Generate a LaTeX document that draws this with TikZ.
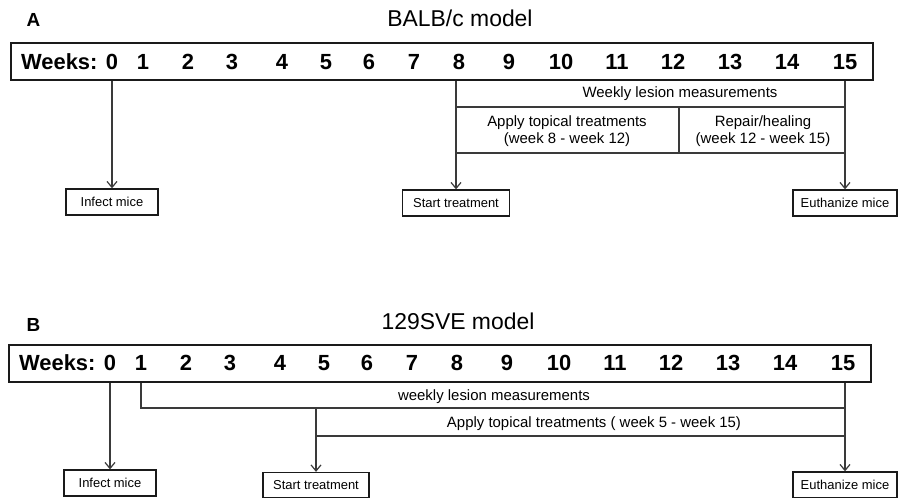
\documentclass[tikz,border=0pt]{standalone}
\usepackage{fontspec}
\setmainfont{Liberation Sans}
\usepackage{xcolor}
\usepackage{tikz}
\usetikzlibrary{positioning,calc,arrows.meta}
\definecolor{tlline}{HTML}{3A3A3A}
\definecolor{tlbox}{HTML}{1A1A1A}

\begin{document}
\begin{tikzpicture}[x=1bp, y=-1bp,
    weekbar/.style={draw=tlbox, line width=2bp, minimum width=862bp, minimum height=37bp,
                    anchor=north west, inner sep=0pt},
    weeknum/.style={anchor=base, font=\bfseries\fontsize{22}{26}\selectfont},
    evbox/.style={draw=tlbox, line width=1.3bp, minimum height=26bp, inner sep=2pt,
                  font=\fontsize{13}{15}\selectfont},
    phase/.style={anchor=base, font=\fontsize{15}{17}\selectfont, align=center},
    link/.style={draw=tlline, line width=1.2bp},
    arr/.style={link, -{Straight Barb[length=6bp, width=10bp]}},
    panel/.style={anchor=base west, font=\bfseries\fontsize{19}{22}\selectfont},
    ttl/.style={anchor=base, font=\fontsize{23}{27}\selectfont}]

%%% ---------- MARCO ----------
\useasboundingbox (0,0) rectangle (898,498);
\def\weekxs{112,143,188,232,282,326,369,414,459,509,561,617,673,730,787,845}

%%% ---------- PANEL A: BALB/c ----------
\node[panel] (labelA) at (23,27) {A};
\node[ttl] (titleA) at (460,27) {BALB/c model};
\node[weekbar] (barA) at (10,42) {};
\node[weeknum, anchor=base east] (weeksA) at (101,70) {Weeks:};
\foreach \x [count=\i from 0] in \weekxs {
    \node[weeknum] (weekA\i) at (\x,70) {\i};
}

% Eventos
\node[evbox, minimum width=92bp] (infectA) at (weekA0 |- 0,202) {Infect mice};
\node[evbox, minimum width=107bp] (startA) at (456,203) {Start treatment};
\node[evbox, minimum width=104bp] (euthA) at (845,203) {Euthanize mice};

% Fases
\coordinate (lesA) at (456,107);
\coordinate (treatA) at (456,153);
\coordinate (splitA) at (679,107);
\draw[link] (lesA) -- (lesA -| euthA);
\draw[link] (treatA) -- (treatA -| euthA);
\draw[link] (splitA) -- (splitA |- treatA);
\node[phase] (lesionA) at (680,98) {Weekly lesion measurements};
\node[phase, anchor=center] (applyA) at (567,131) {Apply topical treatments\\(week 8 - week 12)};
\node[phase, anchor=center] (repairA) at (763,131) {Repair/healing\\(week 12 - week 15)};

% Flechas
\draw[arr] (infectA |- barA.south) -- (infectA.north);
\draw[arr] (startA |- barA.south) -- (startA.north);
\draw[arr] (euthA |- barA.south) -- (euthA.north);

%%% ---------- PANEL B: 129SVE ----------
\node[panel] (labelB) at (23,332) {B};
\node[ttl] (titleB) at (458,330) {129SVE model};
\node[weekbar] (barB) at (8,344) {};
\node[weeknum, anchor=base east] (weeksB) at (99,370) {Weeks:};
\foreach \x [count=\i from 0] in \weekxs {
    \node[weeknum] (weekB\i) at ({\x-2},370) {\i};
}

% Eventos
\node[evbox, minimum width=92bp] (infectB) at (weekB0 |- 0,483) {Infect mice};
\node[evbox, minimum width=106bp, minimum height=25bp] (startB) at (316,485) {Start treatment};
\node[evbox, minimum width=104bp] (euthB) at (845,485) {Euthanize mice};

% Fases
\coordinate (lesB) at (weekB1 |- 0,408);
\coordinate (treatB) at (startB |- 0,436);
\draw[link] (weekB1 |- barB.south) -- (lesB) -- (lesB -| euthB);
\draw[link] (treatB) -- (treatB -| euthB);
\node[phase] (lesionB) at (494,400) {weekly lesion measurements};
\node[phase] (applyB) at (594,427) {Apply topical treatments ( week 5 - week 15)};

% Flechas
\draw[arr] (infectB |- barB.south) -- (infectB.north);
\draw[arr] (startB |- lesB) -- (startB.north);
\draw[arr] (euthB |- barB.south) -- (euthB.north);

\end{tikzpicture}
\end{document}
